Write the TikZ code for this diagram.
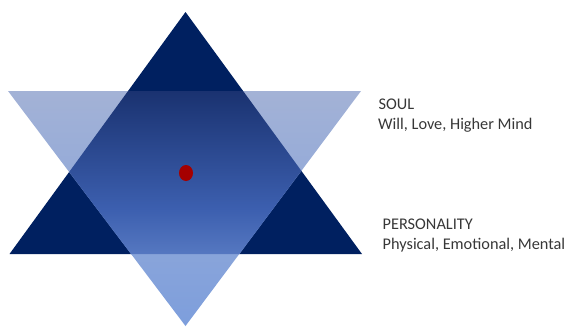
\documentclass[tikz,border=0pt]{standalone}
\usepackage{fontspec}
\setmainfont{Carlito}
\definecolor{navy}{RGB}{0,32,96}
\definecolor{wingtop}{RGB}{163,178,214}
\definecolor{wingmid}{RGB}{100,134,204}
\definecolor{tipbot}{RGB}{125,158,220}
\definecolor{intop}{RGB}{26,50,112}
\definecolor{inmid}{RGB}{60,95,175}
\definecolor{inbot}{RGB}{100,137,212}
\definecolor{dotred}{RGB}{165,0,0}
\definecolor{txt}{RGB}{55,55,55}
\tikzset{label text/.style={anchor=base west, inner sep=0pt, font=\fontsize{16.3}{20}\selectfont, text=txt}}
\begin{document}
\begin{tikzpicture}[x=1pt,y=-1pt]
\useasboundingbox (0,0) rectangle (570,327);
\coordinate (ua) at (185.5,12);
\coordinate (ul) at (9.5,254);
\coordinate (ur) at (362,254);
\coordinate (dl) at (8,91);
\coordinate (dr) at (361,91);
\coordinate (da) at (185.5,326);
% upward triangle
\fill[navy] (ua) -- (ul) -- (ur) -- cycle;
% downward triangle (outside parts)
\shade[top color=wingtop, middle color=wingmid, bottom color=tipbot] (dl) -- (dr) -- (da) -- cycle;
% overlap
\begin{scope}
\clip (ua) -- (ul) -- (ur) -- cycle;
\shade[top color=intop, bottom color=tipbot, middle color=inmid] (dl) -- (dr) -- (da) -- cycle;
\end{scope}
\fill[dotred] (186,173) ellipse (7 and 8) node (dot) {};
\node[label text] (soul) at (378.5,109) {SOUL};
\node[label text] (soulsub) at (378,129) {Will, Love, Higher Mind};
\node[label text] (pers) at (382.5,229) {PERSONALITY};
\node[label text] (perssub) at (382.5,249) {Physical, Emotional, Mental};
\end{tikzpicture}
\end{document}
